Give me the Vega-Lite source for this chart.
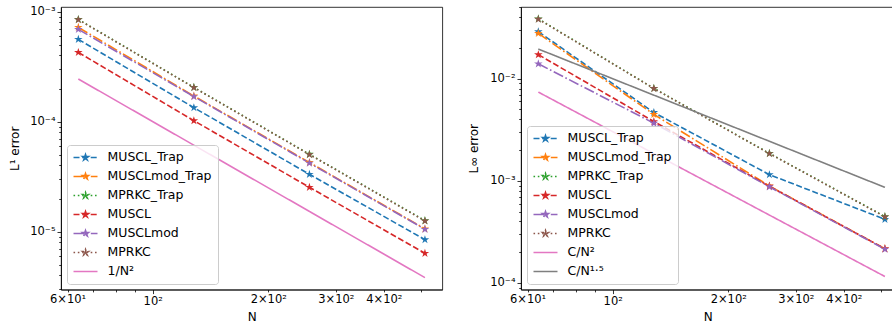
{
  "$schema": "https://vega.github.io/schema/vega-lite/v6.json",
  "padding": {"left": 7, "top": 5, "right": 0, "bottom": 0},
  "spacing": 24,
  "config": {
    "font": "DejaVu Sans",
    "view": {"stroke": "black", "strokeWidth": 0.8},
    "axis": {"grid": false, "domainColor": "black", "domainWidth": 0.8, "tickColor": "black", "tickWidth": 0.8, "labelColor": "black", "titleColor": "black", "labelFont": "DejaVu Sans", "titleFont": "DejaVu Sans", "labelFontSize": 11.5, "titleFontSize": 12, "titleFontWeight": "normal", "labelFlush": false, "labelOverlap": false, "labelBound": false},
    "legend": {"orient": "bottom-left", "offset": 6, "fillColor": "rgba(255,255,255,0.8)", "strokeColor": "#cccccc", "cornerRadius": 3, "padding": 5.5, "rowPadding": 5, "symbolSize": 144, "symbolStrokeWidth": 1.6, "symbolOffset": 6, "labelOffset": 15, "labelFontSize": 12.5, "labelFont": "DejaVu Sans", "labelColor": "black", "labelLimit": 300}
  },
  "datasets": {
    "l1": [
      {"s": "MUSCL_Trap", "N": 64, "e": 5.6e-4}, {"s": "MUSCL_Trap", "N": 128, "e": 1.34e-4}, {"s": "MUSCL_Trap", "N": 256, "e": 3.32e-5}, {"s": "MUSCL_Trap", "N": 512, "e": 8.45e-6},
      {"s": "MUSCLmod_Trap", "N": 64, "e": 7.2e-4}, {"s": "MUSCLmod_Trap", "N": 128, "e": 1.71e-4}, {"s": "MUSCLmod_Trap", "N": 256, "e": 4.25e-5}, {"s": "MUSCLmod_Trap", "N": 512, "e": 1.06e-5},
      {"s": "MPRKC_Trap", "N": 64, "e": 8.5e-4}, {"s": "MPRKC_Trap", "N": 128, "e": 2.05e-4}, {"s": "MPRKC_Trap", "N": 256, "e": 5.05e-5}, {"s": "MPRKC_Trap", "N": 512, "e": 1.26e-5},
      {"s": "MUSCL", "N": 64, "e": 4.26e-4}, {"s": "MUSCL", "N": 128, "e": 1.02e-4}, {"s": "MUSCL", "N": 256, "e": 2.53e-5}, {"s": "MUSCL", "N": 512, "e": 6.35e-6},
      {"s": "MUSCLmod", "N": 64, "e": 6.9e-4}, {"s": "MUSCLmod", "N": 128, "e": 1.69e-4}, {"s": "MUSCLmod", "N": 256, "e": 4.2e-5}, {"s": "MUSCLmod", "N": 512, "e": 1.05e-5},
      {"s": "MPRKC", "N": 64, "e": 8.45e-4}, {"s": "MPRKC", "N": 128, "e": 2.04e-4}, {"s": "MPRKC", "N": 256, "e": 5.02e-5}, {"s": "MPRKC", "N": 512, "e": 1.25e-5},
      {"s": "1/N²", "N": 64, "e": 2.441e-4}, {"s": "1/N²", "N": 128, "e": 6.104e-5}, {"s": "1/N²", "N": 256, "e": 1.526e-5}, {"s": "1/N²", "N": 512, "e": 3.815e-6}
    ],
    "linf": [
      {"s": "MUSCL_Trap", "N": 64, "e": 0.0289}, {"s": "MUSCL_Trap", "N": 128, "e": 4.67e-3}, {"s": "MUSCL_Trap", "N": 256, "e": 1.15e-3}, {"s": "MUSCL_Trap", "N": 512, "e": 4.2e-4},
      {"s": "MUSCLmod_Trap", "N": 64, "e": 0.0278}, {"s": "MUSCLmod_Trap", "N": 128, "e": 4.47e-3}, {"s": "MUSCLmod_Trap", "N": 256, "e": 8.9e-4}, {"s": "MUSCLmod_Trap", "N": 512, "e": 2.17e-4},
      {"s": "MPRKC_Trap", "N": 64, "e": 0.0386}, {"s": "MPRKC_Trap", "N": 128, "e": 8.05e-3}, {"s": "MPRKC_Trap", "N": 256, "e": 1.86e-3}, {"s": "MPRKC_Trap", "N": 512, "e": 4.47e-4},
      {"s": "MUSCL", "N": 64, "e": 0.0172}, {"s": "MUSCL", "N": 128, "e": 3.81e-3}, {"s": "MUSCL", "N": 256, "e": 8.85e-4}, {"s": "MUSCL", "N": 512, "e": 2.16e-4},
      {"s": "MUSCLmod", "N": 64, "e": 0.014}, {"s": "MUSCLmod", "N": 128, "e": 3.67e-3}, {"s": "MUSCLmod", "N": 256, "e": 8.75e-4}, {"s": "MUSCLmod", "N": 512, "e": 2.14e-4},
      {"s": "MPRKC", "N": 64, "e": 0.0383}, {"s": "MPRKC", "N": 128, "e": 8.02e-3}, {"s": "MPRKC", "N": 256, "e": 1.85e-3}, {"s": "MPRKC", "N": 512, "e": 4.44e-4},
      {"s": "C/N²", "N": 64, "e": 7.4e-3}, {"s": "C/N²", "N": 128, "e": 1.849e-3}, {"s": "C/N²", "N": 256, "e": 4.62e-4}, {"s": "C/N²", "N": 512, "e": 1.156e-4},
      {"s": "C/N¹·⁵", "N": 64, "e": 0.01953}, {"s": "C/N¹·⁵", "N": 128, "e": 6.905e-3}, {"s": "C/N¹·⁵", "N": 256, "e": 2.441e-3}, {"s": "C/N¹·⁵", "N": 512, "e": 8.63e-4}
    ]
  },
  "hconcat": [
    {
      "name": "L",
      "width": 381.3,
      "height": 282.6,
      "data": {"name": "l1"},
      "encoding": {
        "x": {"field": "N", "type": "quantitative", "title": "N",
          "scale": {"type": "log", "domain": [57.68, 568.2], "nice": false},
          "axis": {"values": [60, 70, 80, 90, 100, 200, 300, 400, 500], "labelExpr": "datum.value == 60 ? '6×10¹' : datum.value == 100 ? '10²' : datum.value == 200 ? '2×10²' : datum.value == 300 ? '3×10²' : datum.value == 400 ? '4×10²' : ''", "labelFontSize": {"condition": {"test": "datum.value == 60 || datum.value == 100 || datum.value == 200 || datum.value == 300 || datum.value == 400", "value": 11.5}, "value": 0}, "tickSize": {"condition": {"test": "datum.value == 100", "value": 4}, "value": 2.3}, "labelPadding": 2, "titlePadding": 4}},
        "y": {"field": "e", "type": "quantitative", "title": "L¹ error",
          "scale": {"type": "log", "domain": [2.97e-6, 1.102e-3], "nice": false},
          "axis": {"values": [3e-6, 4e-6, 5e-6, 6e-6, 7e-6, 8e-6, 9e-6, 1e-5, 2e-5, 3e-5, 4e-5, 5e-5, 6e-5, 7e-5, 8e-5, 9e-5, 1e-4, 2e-4, 3e-4, 4e-4, 5e-4, 6e-4, 7e-4, 8e-4, 9e-4, 1e-3], "labelExpr": "datum.value == 0.001 ? '10⁻³' : datum.value == 0.0001 ? '10⁻⁴' : datum.value == 0.00001 ? '10⁻⁵' : ''", "labelFontSize": {"condition": {"test": "datum.value == 0.001 || datum.value == 0.0001 || datum.value == 0.00001", "value": 11.5}, "value": 0}, "tickSize": {"condition": {"test": "datum.value == 0.001 || datum.value == 0.0001 || datum.value == 0.00001", "value": 4}, "value": 2.3}, "labelPadding": 2, "titlePadding": 6, "minExtent": 34, "maxExtent": 34}}
      },
      "layer": [
        {
          "mark": {"type": "line", "strokeWidth": 1.6},
          "encoding": {
            "color": {"field": "s", "type": "nominal",
              "scale": {"domain": ["MUSCL_Trap", "MUSCLmod_Trap", "MPRKC_Trap", "MUSCL", "MUSCLmod", "MPRKC", "1/N²"], "range": ["#1f77b4", "#ff7f0e", "#2ca02c", "#d62728", "#9467bd", "#8c564b", "#e377c2"]},
              "legend": {"title": null, "encode": {"symbols": {"update": {
                "fill": {"signal": "['#1f77b4','#ff7f0e','#2ca02c','#d62728','#9467bd','#8c564b','#e377c2','#e377c2','#7f7f7f'][indexof(['MUSCL_Trap','MUSCLmod_Trap','MPRKC_Trap','MUSCL','MUSCLmod','MPRKC','1/N²','C/N²','C/N¹·⁵'], datum.value)]"},
                "shape": {"signal": "indexof(['1/N²','C/N²','C/N¹·⁵'], datum.value) >= 0 ? 'M-2,0L2,0' : 'M-2,0L2,0M0,-0.5L0.112,-0.155L0.476,-0.155L0.182,0.059L0.294,0.405L0,0.191L-0.294,0.405L-0.182,0.059L-0.476,-0.155L-0.112,-0.155Z'"}
              }}}}},
            "strokeDash": {"field": "s", "type": "nominal",
              "scale": {"domain": ["MUSCL_Trap", "MUSCLmod_Trap", "MPRKC_Trap", "MUSCL", "MUSCLmod", "MPRKC", "1/N²"], "range": [[6, 2.6], [10.5, 2.6, 1.6, 2.6], [1.6, 2.7], [6, 2.6], [10.5, 2.6, 1.6, 2.6], [1.6, 2.7], [1, 0]]},
              "legend": {"title": null}}
          }
        },
        {
          "transform": [{"filter": "indexof(['1/N²','C/N²','C/N¹·⁵'], datum.s) < 0"}],
          "mark": {"type": "point", "filled": true, "opacity": 1, "size": 81, "strokeWidth": 0, "shape": "M0,-1L0.2245,-0.309L0.951,-0.309L0.363,0.118L0.588,0.809L0,0.382L-0.588,0.809L-0.363,0.118L-0.951,-0.309L-0.2245,-0.309Z"},
          "encoding": {
            "color": {"field": "s", "type": "nominal", "legend": null}
          }
        }
      ]
    },
    {
      "name": "R",
      "width": 373.7,
      "height": 282.6,
      "data": {"name": "linf"},
      "encoding": {
        "x": {"field": "N", "type": "quantitative", "title": "N",
          "scale": {"type": "log", "domain": [57.68, 542.9], "nice": false},
          "axis": {"values": [60, 70, 80, 90, 100, 200, 300, 400, 500], "labelExpr": "datum.value == 60 ? '6×10¹' : datum.value == 100 ? '10²' : datum.value == 200 ? '2×10²' : datum.value == 300 ? '3×10²' : datum.value == 400 ? '4×10²' : ''", "labelFontSize": {"condition": {"test": "datum.value == 60 || datum.value == 100 || datum.value == 200 || datum.value == 300 || datum.value == 400", "value": 11.5}, "value": 0}, "tickSize": {"condition": {"test": "datum.value == 100", "value": 4}, "value": 2.3}, "labelPadding": 2, "titlePadding": 4}},
        "y": {"field": "e", "type": "quantitative", "title": "L∞ error",
          "scale": {"type": "log", "domain": [8.61e-5, 0.0504], "nice": false},
          "axis": {"values": [9e-5, 1e-4, 2e-4, 3e-4, 4e-4, 5e-4, 6e-4, 7e-4, 8e-4, 9e-4, 1e-3, 2e-3, 3e-3, 4e-3, 5e-3, 6e-3, 7e-3, 8e-3, 9e-3, 1e-2, 2e-2, 3e-2, 4e-2, 5e-2], "labelExpr": "datum.value == 0.01 ? '10⁻²' : datum.value == 0.001 ? '10⁻³' : datum.value == 0.0001 ? '10⁻⁴' : ''", "labelFontSize": {"condition": {"test": "datum.value == 0.01 || datum.value == 0.001 || datum.value == 0.0001", "value": 11.5}, "value": 0}, "tickSize": {"condition": {"test": "datum.value == 0.01 || datum.value == 0.001 || datum.value == 0.0001", "value": 4}, "value": 2.3}, "labelPadding": 2, "titlePadding": 6, "minExtent": 34, "maxExtent": 34}}
      },
      "layer": [
        {
          "mark": {"type": "line", "strokeWidth": 1.6},
          "encoding": {
            "color": {"field": "s", "type": "nominal",
              "scale": {"domain": ["MUSCL_Trap", "MUSCLmod_Trap", "MPRKC_Trap", "MUSCL", "MUSCLmod", "MPRKC", "C/N²", "C/N¹·⁵"], "range": ["#1f77b4", "#ff7f0e", "#2ca02c", "#d62728", "#9467bd", "#8c564b", "#e377c2", "#7f7f7f"]},
              "legend": {"title": null, "encode": {"symbols": {"update": {
                "fill": {"signal": "['#1f77b4','#ff7f0e','#2ca02c','#d62728','#9467bd','#8c564b','#e377c2','#e377c2','#7f7f7f'][indexof(['MUSCL_Trap','MUSCLmod_Trap','MPRKC_Trap','MUSCL','MUSCLmod','MPRKC','1/N²','C/N²','C/N¹·⁵'], datum.value)]"},
                "shape": {"signal": "indexof(['1/N²','C/N²','C/N¹·⁵'], datum.value) >= 0 ? 'M-2,0L2,0' : 'M-2,0L2,0M0,-0.5L0.112,-0.155L0.476,-0.155L0.182,0.059L0.294,0.405L0,0.191L-0.294,0.405L-0.182,0.059L-0.476,-0.155L-0.112,-0.155Z'"}
              }}}}},
            "strokeDash": {"field": "s", "type": "nominal",
              "scale": {"domain": ["MUSCL_Trap", "MUSCLmod_Trap", "MPRKC_Trap", "MUSCL", "MUSCLmod", "MPRKC", "C/N²", "C/N¹·⁵"], "range": [[6, 2.6], [10.5, 2.6, 1.6, 2.6], [1.6, 2.7], [6, 2.6], [10.5, 2.6, 1.6, 2.6], [1.6, 2.7], [1, 0], [1, 0]]},
              "legend": {"title": null}}
          }
        },
        {
          "transform": [{"filter": "indexof(['1/N²','C/N²','C/N¹·⁵'], datum.s) < 0"}],
          "mark": {"type": "point", "filled": true, "opacity": 1, "size": 81, "strokeWidth": 0, "shape": "M0,-1L0.2245,-0.309L0.951,-0.309L0.363,0.118L0.588,0.809L0,0.382L-0.588,0.809L-0.363,0.118L-0.951,-0.309L-0.2245,-0.309Z"},
          "encoding": {
            "color": {"field": "s", "type": "nominal", "legend": null}
          }
        }
      ]
    }
  ],
  "resolve": {"scale": {"x": "independent", "y": "independent", "color": "independent", "strokeDash": "independent"}}
}
